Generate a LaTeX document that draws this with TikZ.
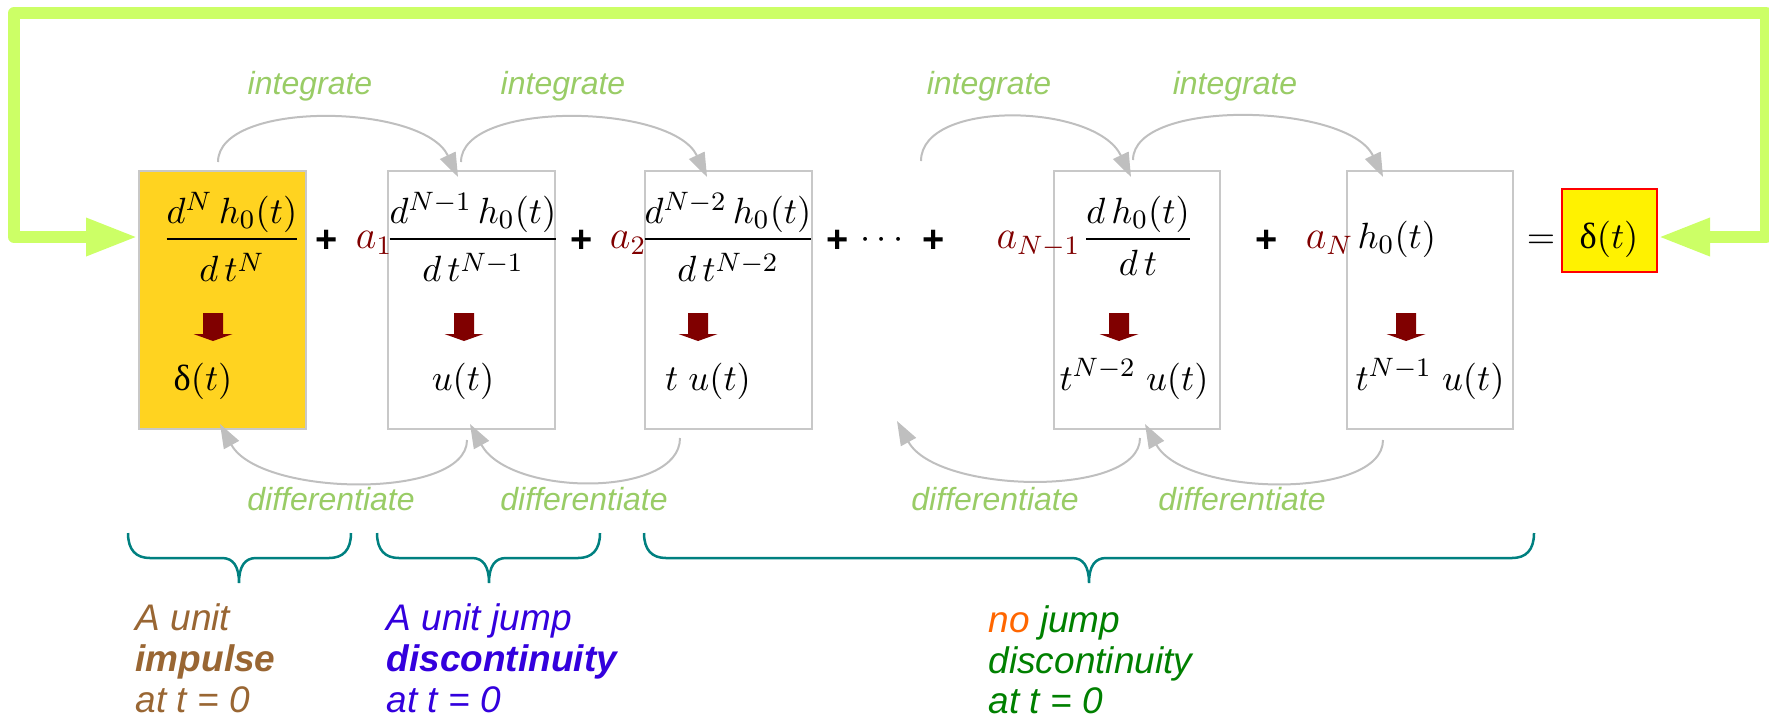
\documentclass[tikz,border=0pt]{standalone}
\usepackage{amsmath}
\usepackage{fontspec}
\setmainfont{Liberation Sans}
\newfontfamily\grk{Liberation Serif}
\usetikzlibrary{arrows.meta,fit}
\definecolor{loopgreen}{HTML}{CCFF66}
\definecolor{lblgreen}{HTML}{99CC66}
\definecolor{gold}{HTML}{FFD320}
\definecolor{arcgray}{HTML}{BFBFBF}
\definecolor{boxgray}{HTML}{C8C8C8}
\definecolor{dred}{HTML}{800000}
\definecolor{bracecol}{HTML}{008080}
\definecolor{browntxt}{HTML}{996633}
\definecolor{bluetxt}{HTML}{3300DD}
\definecolor{orangetxt}{HTML}{FF6600}
\definecolor{greentxt}{HTML}{008000}
\newcommand{\mathsz}{\fontsize{10.95}{13}\selectfont}
\newcommand{\dsa}{\rule{0pt}{11.4pt}}
\newcommand{\dsb}{\rule{0pt}{9.6pt}}
\tikzset{
  termbox/.style={draw=boxgray, line width=0.45pt, inner sep=0pt, outer sep=0pt, fill=white},
  mathtxt/.style={inner sep=0pt, anchor=base, font=\mathsz},
  coef/.style={inner sep=0pt, anchor=base east, font=\fontsize{12}{14}\selectfont, text=dred},
  opsign/.style={inner sep=0pt, anchor=base, font=\fontsize{11.4}{13}\selectfont\bfseries},
  grayarc/.style={draw=arcgray, line width=0.6pt, -{Triangle[length=7.2pt,width=5.1pt]}},
  oplabel/.style={inner sep=0pt, anchor=base, text=lblgreen, font=\fontsize{9.6}{11}\selectfont\itshape},
  bigloop/.style={draw=loopgreen, line width=3.6pt, line join=round,
    {Triangle[length=15.6pt,width=10.5pt]}-{Triangle[length=15.6pt,width=10.5pt]}},
  bracepath/.style={draw=bracecol, line width=0.75pt},
  desc/.style={inner sep=0pt, anchor=base west, font=\fontsize{11.1}{13}\selectfont\itshape},
}
\begin{document}
\begin{tikzpicture}[x=0.3pt, y=-0.3pt]
\useasboundingbox (0,0) rectangle (1769,718);

% feedback loop
\coordinate (lin) at (138,237);
\coordinate (rin) at (1658,237);
\draw[bigloop] (rin) -- (1766,237) -- (1766,13) -- (14,13) -- (14,237) -- (lin);

% term boxes
\node[termbox, fill=gold, fit={(139,171) (306,429)}] (b1) {};
\node[termbox, fit={(388,171) (555,429)}] (b2) {};
\node[termbox, fit={(645,171) (812,429)}] (b3) {};
\node[termbox, fit={(1054,171) (1220,429)}] (b4) {};
\node[termbox, fit={(1347,171) (1513,429)}] (b5) {};
\node[draw=red, line width=0.45pt, fill=yellow, inner sep=0pt, outer sep=0pt, fit={(1562,189) (1657,272)}] (dbox) {};

% upper expressions
\node[mathtxt] (f1) at (232,248) {$\dfrac{d^N\, h_0(t)}{\dsa d\,t^N}$};
\node[coef] (c1) at (393,248) {$a_1$};
\node[mathtxt] (f2) at (473,248) {$\dfrac{d^{N-1}\, h_0(t)}{\dsa d\,t^{N-1}}$};
\node[coef] (c2) at (647,248) {$a_2$};
\node[mathtxt] (f3) at (728,248) {$\dfrac{d^{N-2}\, h_0(t)}{\dsa d\,t^{N-2}}$};
\node[coef] (c3) at (1081,248) {$a_{N-1}$};
\node[mathtxt] (f4) at (1138,248) {$\dfrac{d\, h_0(t)}{\dsb d\,t}$};
\node[coef] (c4) at (1354,248) {$a_N$};
\node[mathtxt, anchor=base west] (f5) at (1357,248) {$h_0(t)$};
\node[mathtxt] (rhs) at (1609,248) {{\grk δ}$(t)$};

% operators
\node[opsign] (p1) at (327,252) {+};
\node[opsign] (p2) at (582,252) {+};
\node[opsign] (p3) at (838,252) {+};
\node[mathtxt] (dots) at (885,248) {$\cdots$};
\node[opsign] (p4) at (934,252) {+};
\node[opsign] (p5) at (1267,252) {+};
\node[mathtxt] (eq) at (1541,248) {$=$};

% down arrows
\foreach \c in {213,464,698,1119,1406}
  \fill[dred] ({\c-10},313) -- ({\c+10},313) -- ({\c+10},334) -- ({\c+19.5},334)
     -- (\c,341) -- ({\c-19.5},334) -- ({\c-10},334) -- cycle;

% lower expressions
\node[mathtxt] (l1) at (203,390) {{\grk δ}$(t)$};
\node[mathtxt] (l2) at (463,390) {$u(t)$};
\node[mathtxt] (l3) at (708,390) {$t\;u(t)$};
\node[mathtxt] (l4) at (1134,390) {$t^{N-2}\;u(t)$};
\node[mathtxt] (l5) at (1430,390) {$t^{N-1}\;u(t)$};

% integrate arcs
\coordinate (i1s) at (218,162); \coordinate (i1e) at (458,177);
\coordinate (i2s) at (461,162); \coordinate (i2e) at (707,177);
\coordinate (i3s) at (921,161); \coordinate (i3e) at (1131,177);
\coordinate (i4s) at (1133,160); \coordinate (i4e) at (1383,177);
\foreach \k in {1,2,3,4}
  \draw[grayarc] (i\k s) .. controls +(0,-62) and +(-35,-74) .. (i\k e);
\node[oplabel] (il1) at (310,94) {integrate};
\node[oplabel] (il2) at (563,94) {integrate};
\node[oplabel] (il3) at (989,94) {integrate};
\node[oplabel] (il4) at (1235,94) {integrate};

% differentiate arcs
\coordinate (d1s) at (467,440); \coordinate (d1e) at (220,424);
\coordinate (d2s) at (680,438); \coordinate (d2e) at (470,424);
\coordinate (d3s) at (1140,438); \coordinate (d3e) at (897,421);
\coordinate (d4s) at (1383,440); \coordinate (d4e) at (1145,424);
\foreach \k in {1,2,3,4}
  \draw[grayarc] (d\k s) .. controls +(0,60) and +(40,73) .. (d\k e);
\node[oplabel] (dl1) at (331,510) {differentiate};
\node[oplabel] (dl2) at (584,510) {differentiate};
\node[oplabel] (dl3) at (995,510) {differentiate};
\node[oplabel] (dl4) at (1242,510) {differentiate};

% braces
\foreach \L/\M/\R in {128/239/351, 377/489/600, 644/1089/1534}
  \draw[bracepath] (\L,533) .. controls (\L,550) and ({\L+8},558) .. ({\L+22},558)
    -- ({\M-17},558) .. controls ({\M-6},558) and (\M,566) .. (\M,583)
    .. controls (\M,566) and ({\M+6},558) .. ({\M+17},558)
    -- ({\R-22},558) .. controls ({\R-8},558) and (\R,550) .. (\R,533);

% descriptions
\node[desc, text=browntxt] (a1) at (135,630) {A unit};
\node[desc, text=browntxt, font=\fontsize{11.1}{13}\selectfont\bfseries\itshape] (a2) at (135,671) {impulse};
\node[desc, text=browntxt] (a3) at (135,712) {at t = 0};
\node[desc, text=bluetxt] (j1) at (386,630) {A unit jump};
\node[desc, text=bluetxt, font=\fontsize{11.1}{13}\selectfont\bfseries\itshape] (j2) at (386,671) {discontinuity};
\node[desc, text=bluetxt] (j3) at (386,712) {at t = 0};
\node[desc, text=greentxt] (n1) at (988,632) {{\color{orangetxt}no} jump};
\node[desc, text=greentxt] (n2) at (988,673) {discontinuity};
\node[desc, text=greentxt] (n3) at (988,713) {at t = 0};
\end{tikzpicture}
\end{document}
